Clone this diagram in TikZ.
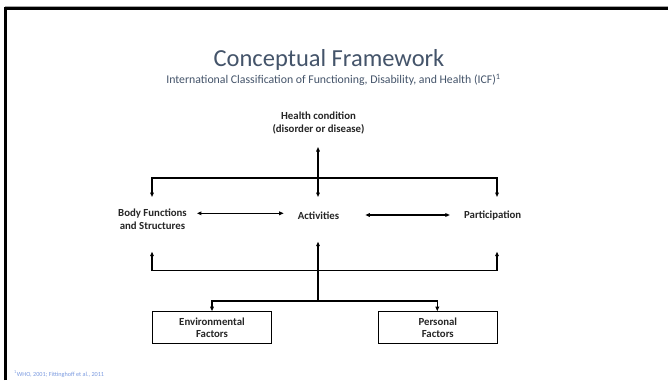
\documentclass[tikz,border=0pt]{standalone}
\usepackage{fontspec}
\setmainfont{Carlito}
\usetikzlibrary{arrows.meta}
\definecolor{titlegray}{HTML}{44546A}
\definecolor{notesblue}{HTML}{7A9AE0}
\tikzset{
  lbl/.style={font=\bfseries\fontsize{10.8}{12.5}\selectfont, align=center, inner sep=1pt, text=black!85},
  factorbox/.style={draw, line width=1.1pt, minimum width=119pt, minimum height=31.5pt,
    font=\bfseries\fontsize{10.8}{12}\selectfont, align=center, inner sep=0pt, text=black!85},
  link/.style={line width=1.1pt, draw=black},
  tip/.style={-{Triangle[length=4.5pt,width=3.6pt]}},
  tips/.style={{Triangle[length=4.5pt,width=3.6pt]}-{Triangle[length=4.5pt,width=3.6pt]}},
}
\begin{document}
\begin{tikzpicture}[x=1pt, y=-1pt]
\useasboundingbox (0,0) rectangle (668,380);
\fill[white] (0,0) rectangle (668,380);
% slide frame
\draw[gray!70, line width=1pt] (5,6.2) -- (668,6.2);
\draw[black, line width=2.6pt] (5.3,380) -- (5.3,8.5) -- (668,8.5);

% heading
\node[font=\fontsize{24.5}{28}\selectfont, text=titlegray] (title) at (329,60) {Conceptual Framework};
\node[font=\fontsize{11.8}{14}\selectfont, text=titlegray] (subtitle) at (333.5,80)
  {International Classification of Functioning, Disability, and Health (ICF)\textsuperscript{1}};

% components
\node[lbl] (hc) at (318.5,123) {Health condition\\(disorder or disease)};
\node[lbl] (body) at (152.5,219) {Body Functions\\and Structures};
\node[lbl] (act) at (318.5,216) {Activities};
\node[lbl] (part) at (492.7,216) {Participation};
\node[factorbox] (env) at (212,327.5) {Environmental\\Factors};
\node[factorbox] (pers) at (437.8,327.5) {Personal\\Factors};

% bus lines
\coordinate (topL) at (152,178);
\coordinate (topR) at (497,178);
\coordinate (midL) at (152,270.7);
\coordinate (midR) at (497,270.7);
\coordinate (lowC) at (318,301);
\coordinate (lowL) at (212,301);
\coordinate (lowR) at (437.3,301);

% health condition to the three components
\draw[link, tips] (318,147) -- (318,197);
\draw[link, tip] (topR) -- (topL) -- (152,197);
\draw[link, tip] (topL) -- (topR) -- (497,197);

% between the components
\draw[link, tips] (body.east |- 0,213.3) ++(9pt,0) -- ([xshift=-13pt,yshift=2.7pt]act.west);
\draw[link, tips] ([xshift=25pt,yshift=1pt]act.east) -- ([xshift=-13pt,yshift=1pt]part.west);

% contextual factors back to the components
\draw[link, tip] (lowC) -- (318,241.7);
\draw[link, tip] (midR) -- (midL) -- (152,251.7);
\draw[link, tip] (midL) -- (midR) -- (497,251.7);
\draw[link, tip] (lowR) -- (lowL) -- (env.north -| lowL);
\draw[link, tip] (lowL) -- (lowR) -- (pers.north -| lowR);

% reference note
\node[font=\fontsize{6.2}{7}\selectfont, text=notesblue, anchor=west, inner sep=0pt] (note) at (14,374)
  {\textsuperscript{1}WHO, 2001; Fittinghoff et al., 2011};
\end{tikzpicture}
\end{document}
